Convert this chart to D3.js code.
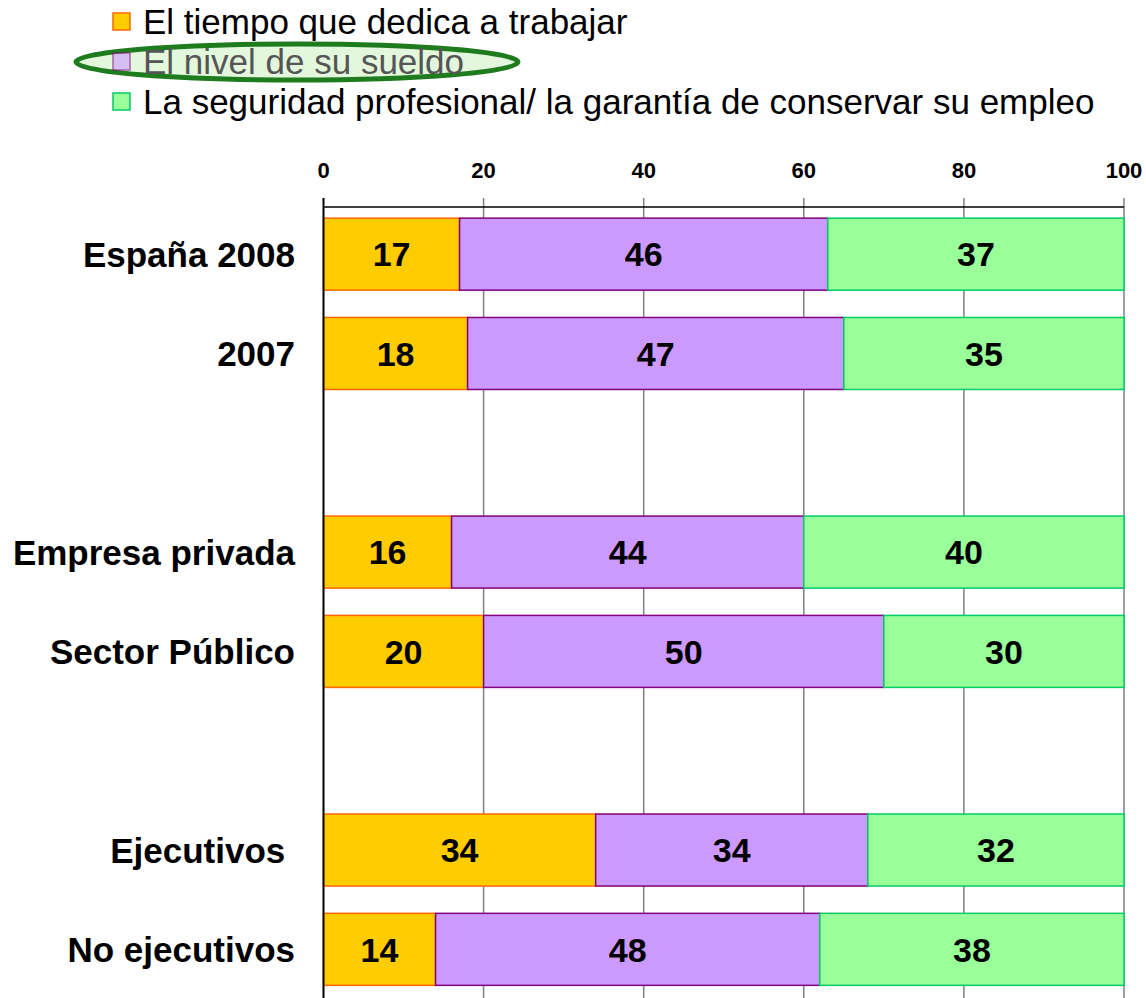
<!DOCTYPE html>
<html>
<head>
<meta charset="utf-8">
<script src="https://cdn.jsdelivr.net/npm/d3@7"></script>
<style>
  body { margin: 0; background: #fff; }
  svg { display: block; font-family: "Liberation Sans", Arial, sans-serif; }
</style>
</head>
<body>
<svg id="chart" width="1146" height="998"></svg>
<script>
// data
var categories = ['España 2008', '2007', '', 'Empresa privada', 'Sector Público', ' ', 'Ejecutivos ', 'No ejecutivos'];
var seriesNames = [
  'El tiempo que dedica a trabajar',
  'El nivel de su sueldo',
  'La seguridad profesional/ la garantía de conservar su empleo'
];
var tiempo = [17, 18, null, 16, 20, null, 34, 14];
var sueldo = [46, 47, null, 44, 50, null, 34, 48];
var seguridad = [37, 35, null, 40, 30, null, 32, 38];
var xTicks = [0, 20, 40, 60, 80, 100];

var fills = ['#FFCC00', '#CC99FF', '#99FF99'];
var strokes = ['#FF6600', '#800080', '#00CC66'];

var svg = d3.select('#chart');

var x = d3.scaleLinear().domain([0, 100]).range([323.5, 1124]);
var y = d3.scaleBand()
  .domain(categories)
  .range([204.5, 999])
  .paddingInner(0.275)
  .paddingOuter(0.1375);

var axisY = 207;

// gridlines
svg.append('g')
  .selectAll('line')
  .data(xTicks.filter(function (d) { return d > 0; }))
  .enter()
  .append('line')
  .attr('x1', function (d) { return x(d); })
  .attr('x2', function (d) { return x(d); })
  .attr('y1', axisY - 9)
  .attr('y2', 998)
  .attr('stroke', '#808080')
  .attr('stroke-width', 1.5);

// stacked bars
var rows = categories.map(function (c, i) {
  return { cat: c, vals: [tiempo[i], sueldo[i], seguridad[i]] };
}).filter(function (r) { return r.vals[0] != null; });

var stackData = rows.map(function (r) {
  return { cat: r.cat, a: r.vals[0], b: r.vals[1], c: r.vals[2] };
});
var stack = d3.stack().keys(['a', 'b', 'c']);
var series = stack(stackData);

var layer = svg.append('g')
  .selectAll('g')
  .data(series)
  .enter()
  .append('g');

layer.selectAll('rect')
  .data(function (s, i) { return s.map(function (d) { return { d: d, i: i }; }); })
  .enter()
  .append('rect')
  .attr('x', function (o) { return x(o.d[0]); })
  .attr('y', function (o) { return y(o.d.data.cat); })
  .attr('width', function (o) { return x(o.d[1]) - x(o.d[0]); })
  .attr('height', y.bandwidth())
  .attr('fill', function (o) { return fills[o.i]; })
  .attr('stroke', function (o) { return strokes[o.i]; })
  .attr('stroke-width', 1.5);

layer.selectAll('text')
  .data(function (s) { return s; })
  .enter()
  .append('text')
  .attr('x', function (d) { return (x(d[0]) + x(d[1])) / 2; })
  .attr('y', function (d) { return y(d.data.cat) + y.bandwidth() / 2; })
  .attr('dy', '0.36em')
  .attr('text-anchor', 'middle')
  .style('font-size', '34px')
  .style('font-weight', 'bold')
  .text(function (d) { return d[1] - d[0]; });

// top axis
svg.append('line')
  .attr('x1', x(0)).attr('x2', x(100))
  .attr('y1', axisY).attr('y2', axisY)
  .attr('stroke', '#000').attr('stroke-width', 1.5);

svg.append('line')
  .attr('x1', x(0)).attr('x2', x(0))
  .attr('y1', axisY - 9).attr('y2', 998)
  .attr('stroke', '#000').attr('stroke-width', 2);

svg.append('g')
  .selectAll('text')
  .data(xTicks)
  .enter()
  .append('text')
  .attr('x', function (d) { return x(d); })
  .attr('y', 178)
  .attr('text-anchor', 'middle')
  .style('font-size', '22px')
  .style('font-weight', 'bold')
  .text(function (d) { return d; });

// category labels
svg.append('g')
  .selectAll('text')
  .data(rows)
  .enter()
  .append('text')
  .attr('x', 295)
  .attr('y', function (r) { return y(r.cat) + y.bandwidth() / 2; })
  .attr('dy', '0.36em')
  .attr('text-anchor', 'end')
  .style('font-size', '35px')
  .style('font-weight', 'bold')
  .style('white-space', 'pre')
  .text(function (r) { return r.cat; });

// legend
svg.append('ellipse')
  .attr('cx', 297).attr('cy', 62)
  .attr('rx', 221).attr('ry', 18)
  .attr('fill', '#E3F7DC')
  .attr('stroke', '#1E7B1E')
  .attr('stroke-width', 5);

var legend = svg.append('g')
  .selectAll('g')
  .data(seriesNames)
  .enter()
  .append('g')
  .attr('transform', function (d, i) { return 'translate(113,' + (21 + i * 40) + ')'; });

legend.append('rect')
  .attr('x', 0).attr('y', -8)
  .attr('width', 17).attr('height', 17)
  .attr('fill', function (d, i) { return fills[i]; })
  .attr('stroke', function (d, i) { return strokes[i]; })
  .attr('stroke-width', 1.5)
  .attr('opacity', function (d, i) { return i === 1 ? 0.6 : 1; });

legend.append('text')
  .attr('x', 30)
  .attr('y', 0)
  .attr('dy', '0.36em')
  .style('font-size', '35px')
  .attr('fill', function (d, i) { return i === 1 ? '#555' : '#000'; })
  .text(function (d) { return d; });
</script>
</body>
</html>
